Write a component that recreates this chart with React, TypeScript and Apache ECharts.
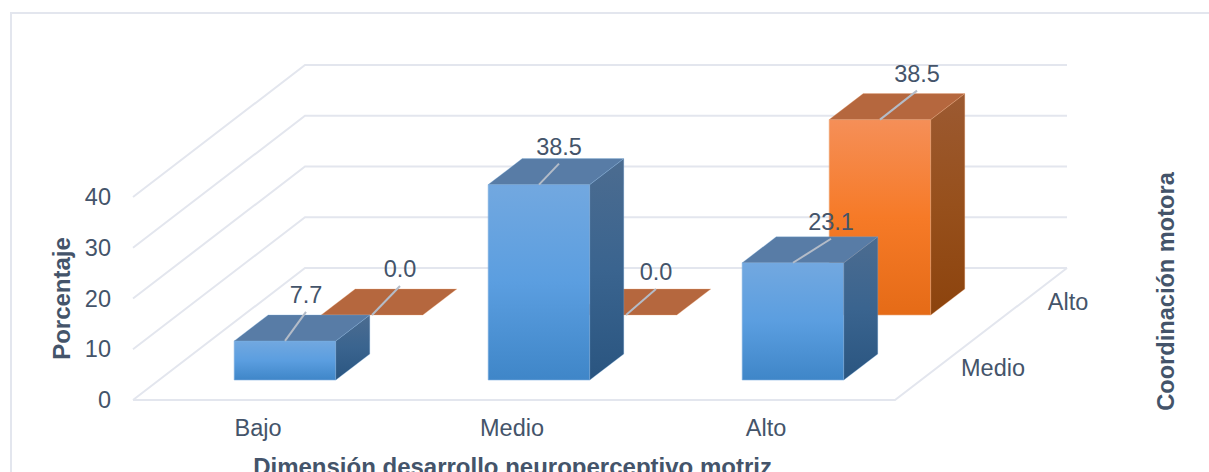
import React, { useEffect, useRef } from "react";
import * as echarts from "echarts";

const categories = ["Bajo", "Medio", "Alto"];
const rows = ["Medio", "Alto"];
const medioValues = [7.7, 38.5, 23.1];
const altoValues = [0.0, 0.0, 38.5];
const yTicks = [0, 10, 20, 30, 40];

const xTitle = "Dimensión desarrollo neuroperceptivo motriz";
const yTitle = "Porcentaje";
const depthTitle = "Coordinación motora";

const TEXT = "#44546a";
const GRID = "#e3e6ee";
const FONT = '"Liberation Sans", Arial, sans-serif';
const FONT_SIZE = 23.5;
const TITLE_SIZE = 24;

// Oblique projection of the depth axis, in pixels.
const DEPTH_X = 172;
const DEPTH_Y = -132;
const ROW_SHIFT = [
  [25, -20],
  [112, -85],
];
const BAR_DEPTH = [34, -26];

// Leader line vector of each data label, by row and category.
const LEADERS = [
  [[21, -29], [20, -21], [38, -24]],
  [[28, -29], [30, -26], [37, -29]],
];

const linear = (x: number, y: number, x2: number, y2: number, stops: string[]) => ({
  type: "linear" as const,
  x,
  y,
  x2,
  y2,
  colorStops: stops.map((color, i) => ({ offset: i / (stops.length - 1), color })),
});

const PALETTE = [
  {
    front: linear(0, 0, 0, 1, ["#72a8e0", "#5b9ee0", "#3f86c8"]),
    side: linear(0, 0, 0, 1, ["#4c6c90", "#3a648f", "#2a5580"]),
    top: "#587ca6",
    edge: "#7fb0e0",
  },
  {
    front: linear(0, 0, 0, 1, ["#f58f58", "#f67a27", "#e56b17"]),
    side: linear(0, 0, 0, 1, ["#9c5a32", "#97501c", "#8c430d"]),
    top: "#b5673e",
    edge: "#eda878",
  },
];

// Back wall, left wall and floor outline, one entry per value tick.
const renderWall = (params: any, api: any) => {
  const cs = params.coordSys;
  const y = api.coord([0, api.value(0)])[1];
  const x0 = cs.x;
  const x1 = cs.x + cs.width;
  const style = { stroke: GRID, lineWidth: 2, fill: "none" };
  const children: any[] = [
    {
      type: "polyline",
      shape: {
        points: [
          [x0, y],
          [x0 + DEPTH_X, y + DEPTH_Y],
          [x1 + DEPTH_X, y + DEPTH_Y],
        ],
      },
      style,
    },
  ];
  if (api.value(0) === 0) {
    children.push({
      type: "polyline",
      shape: {
        points: [
          [x1 + DEPTH_X, y + DEPTH_Y],
          [x1, y],
          [x0, y],
        ],
      },
      style,
    });
  }
  return { type: "group", children };
};

// One box per data item: front, side and top faces, then the leader and the label.
const renderBar = (_: any, api: any) => {
  const cat = api.value(0);
  const value = api.value(1);
  const row = api.value(2);
  const [sx, sy] = ROW_SHIFT[row];
  const half = api.size([1, 0])[0] * 0.2;
  const top = api.coord([cat, value]);
  const base = api.coord([cat, 0]);
  const xl = top[0] + sx - half;
  const xr = top[0] + sx + half;
  const yt = top[1] + sy;
  const yb = base[1] + sy;
  const [dx, dy] = BAR_DEPTH;
  const c = PALETTE[row];
  const children: any[] = [];
  if (yb - yt > 0.5) {
    children.push({
      type: "polygon",
      shape: { points: [[xl, yt], [xr, yt], [xr, yb], [xl, yb]] },
      style: { fill: c.front, stroke: c.edge, lineWidth: 0.6 },
    });
    children.push({
      type: "polygon",
      shape: { points: [[xr, yt], [xr + dx, yt + dy], [xr + dx, yb + dy], [xr, yb]] },
      style: { fill: c.side, stroke: c.edge, lineWidth: 0.3 },
    });
  }
  children.push({
    type: "polygon",
    shape: { points: [[xl, yt], [xl + dx, yt + dy], [xr + dx, yt + dy], [xr, yt]] },
    style: { fill: c.top, stroke: c.edge, lineWidth: 0.3 },
  });
  const cx = (xl + xr) / 2;
  const [lx, ly] = LEADERS[row][cat];
  children.push({
    type: "line",
    shape: { x1: cx, y1: yt, x2: cx + lx, y2: yt + ly },
    style: { stroke: "#b4bcc8", lineWidth: 2 },
  });
  children.push({
    type: "text",
    x: cx + lx,
    y: yt + ly - 17,
    style: {
      text: value.toFixed(1),
      fill: TEXT,
      font: `${FONT_SIZE}px ${FONT}`,
      align: "center",
      verticalAlign: "middle",
    },
  });
  return { type: "group", children };
};

const barData = (values: number[], row: number) => values.map((v, i) => [i, v, row]);

export default function App() {
  const ref = useRef<HTMLDivElement>(null);

  useEffect(() => {
    if (!ref.current) return;
    const chart = echarts.init(ref.current, undefined, { renderer: "svg" });
    chart.setOption({
      animation: false,
      backgroundColor: "#ffffff",
      grid: { left: 133, top: 197, width: 762, height: 203, outerBoundsMode: "none" },
      xAxis: {
        type: "category",
        data: categories,
        axisLine: { show: false },
        axisTick: { show: false },
        axisLabel: { color: TEXT, fontFamily: FONT, fontSize: FONT_SIZE, margin: 16, padding: [0, 4, 0, 0] },
        name: xTitle,
        nameLocation: "middle",
        nameGap: 54,
        nameTextStyle: { color: TEXT, fontFamily: FONT, fontSize: TITLE_SIZE, fontWeight: "bold", padding: [0, 3, 0, 0] },
      },
      yAxis: {
        type: "value",
        min: 0,
        max: yTicks[yTicks.length - 1],
        interval: 10,
        splitLine: { show: false },
        axisLine: { show: false },
        axisTick: { show: false },
        axisLabel: { color: TEXT, fontFamily: FONT, fontSize: FONT_SIZE, margin: 22 },
        name: yTitle,
        nameLocation: "middle",
        nameGap: 60,
        nameTextStyle: { color: TEXT, fontFamily: FONT, fontSize: TITLE_SIZE, fontWeight: "bold" },
      },
      graphic: [
        {
          type: "rect",
          silent: true,
          shape: { x: 11, y: 13, width: 1300, height: 600 },
          style: { fill: "none", stroke: GRID, lineWidth: 2 },
        },
        {
          type: "text",
          x: 993,
          y: 368,
          style: { text: rows[0], fill: TEXT, font: `${FONT_SIZE}px ${FONT}`, align: "center", verticalAlign: "middle" },
        },
        {
          type: "text",
          x: 1068,
          y: 302,
          style: { text: rows[1], fill: TEXT, font: `${FONT_SIZE}px ${FONT}`, align: "center", verticalAlign: "middle" },
        },
        {
          type: "text",
          x: 1166,
          y: 291.5,
          rotation: Math.PI / 2,
          style: { text: depthTitle, fill: TEXT, font: `bold 23.6px ${FONT}`, align: "center", verticalAlign: "middle" },
        },
      ],
      series: [
        {
          type: "custom",
          coordinateSystem: "cartesian2d",
          renderItem: renderWall,
          data: yTicks.map((t) => [t]),
          encode: { y: 0 },
          silent: true,
          z: 1,
        },
        {
          type: "custom",
          coordinateSystem: "cartesian2d",
          renderItem: renderBar,
          data: barData(altoValues, 1),
          encode: { x: 0, y: 1 },
          silent: true,
          z: 2,
        },
        {
          type: "custom",
          coordinateSystem: "cartesian2d",
          renderItem: renderBar,
          data: barData(medioValues, 0),
          encode: { x: 0, y: 1 },
          silent: true,
          z: 3,
        },
      ],
    });
    return () => chart.dispose();
  }, []);

  return <div ref={ref} style={{ position: "fixed", left: 0, top: 0, width: 1209, height: 472 }} />;
}
